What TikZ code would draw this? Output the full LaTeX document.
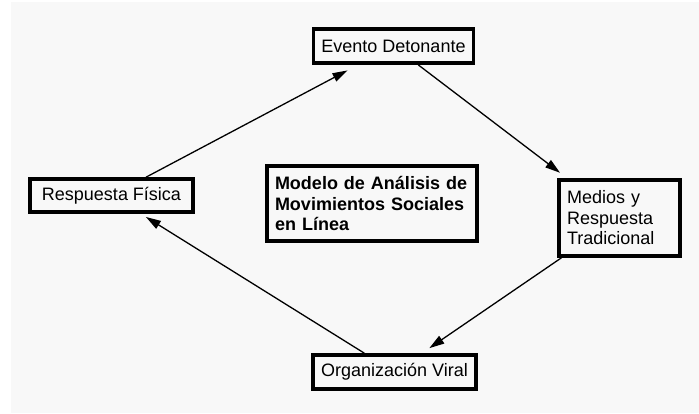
\documentclass[tikz,border=0pt]{standalone}
\usepackage{fontspec}
\setmainfont{Liberation Sans}
\definecolor{pagebg}{RGB}{248, 248, 248}
\definecolor{edgebg}{RGB}{255, 255, 255}
\usepackage{tikz}
\usetikzlibrary{arrows.meta, positioning}

\tikzset{
  stage/.style={draw=black, line width=3.6pt, fill=pagebg, inner ysep=3pt, inner xsep=8pt, font=\fontsize{18}{20.5}\selectfont},
  flow/.style={-{Triangle[length=15pt, width=9pt]}, line width=1.3pt, shorten >=9pt}
}

\begin{document}
\begin{tikzpicture}[x=1pt, y=-1pt]
  % Page background
  \fill[edgebg] (0, 0) rectangle (699, 413);
  \fill[pagebg] (11, 2) rectangle (699, 413);

  % Stages of the cycle
  \node[stage, minimum width=159pt, minimum height=34pt] (evento) at (393.5, 46) {Evento Detonante};
  \node[stage, text width=105pt, align=left, minimum height=76pt] (medios) at (619.5, 218) {Medios y\\Respuesta\\Tradicional};
  \node[stage, minimum width=161pt, minimum height=34pt] (viral) at (394.5, 372) {Organización Viral};
  \node[stage, minimum width=163pt, minimum height=33pt] (fisica) at (111.5, 195.5) {Respuesta Física};

  % Model title
  \node[stage, text width=194pt, align=left, minimum height=75pt, font=\fontsize{18}{20.5}\selectfont\bfseries] (modelo) at (372, 203.5) {Modelo de Análisis de\\Movimientos Sociales\\en Línea};

  % Arrows round the cycle
  \draw[flow, shorten >=12pt] (fisica) -- (evento);
  \draw[flow] (evento) -- (medios);
  \draw[flow] (medios) -- (viral);
  \draw[flow, shorten >=6pt] (viral) -- (fisica);
\end{tikzpicture}
\end{document}
